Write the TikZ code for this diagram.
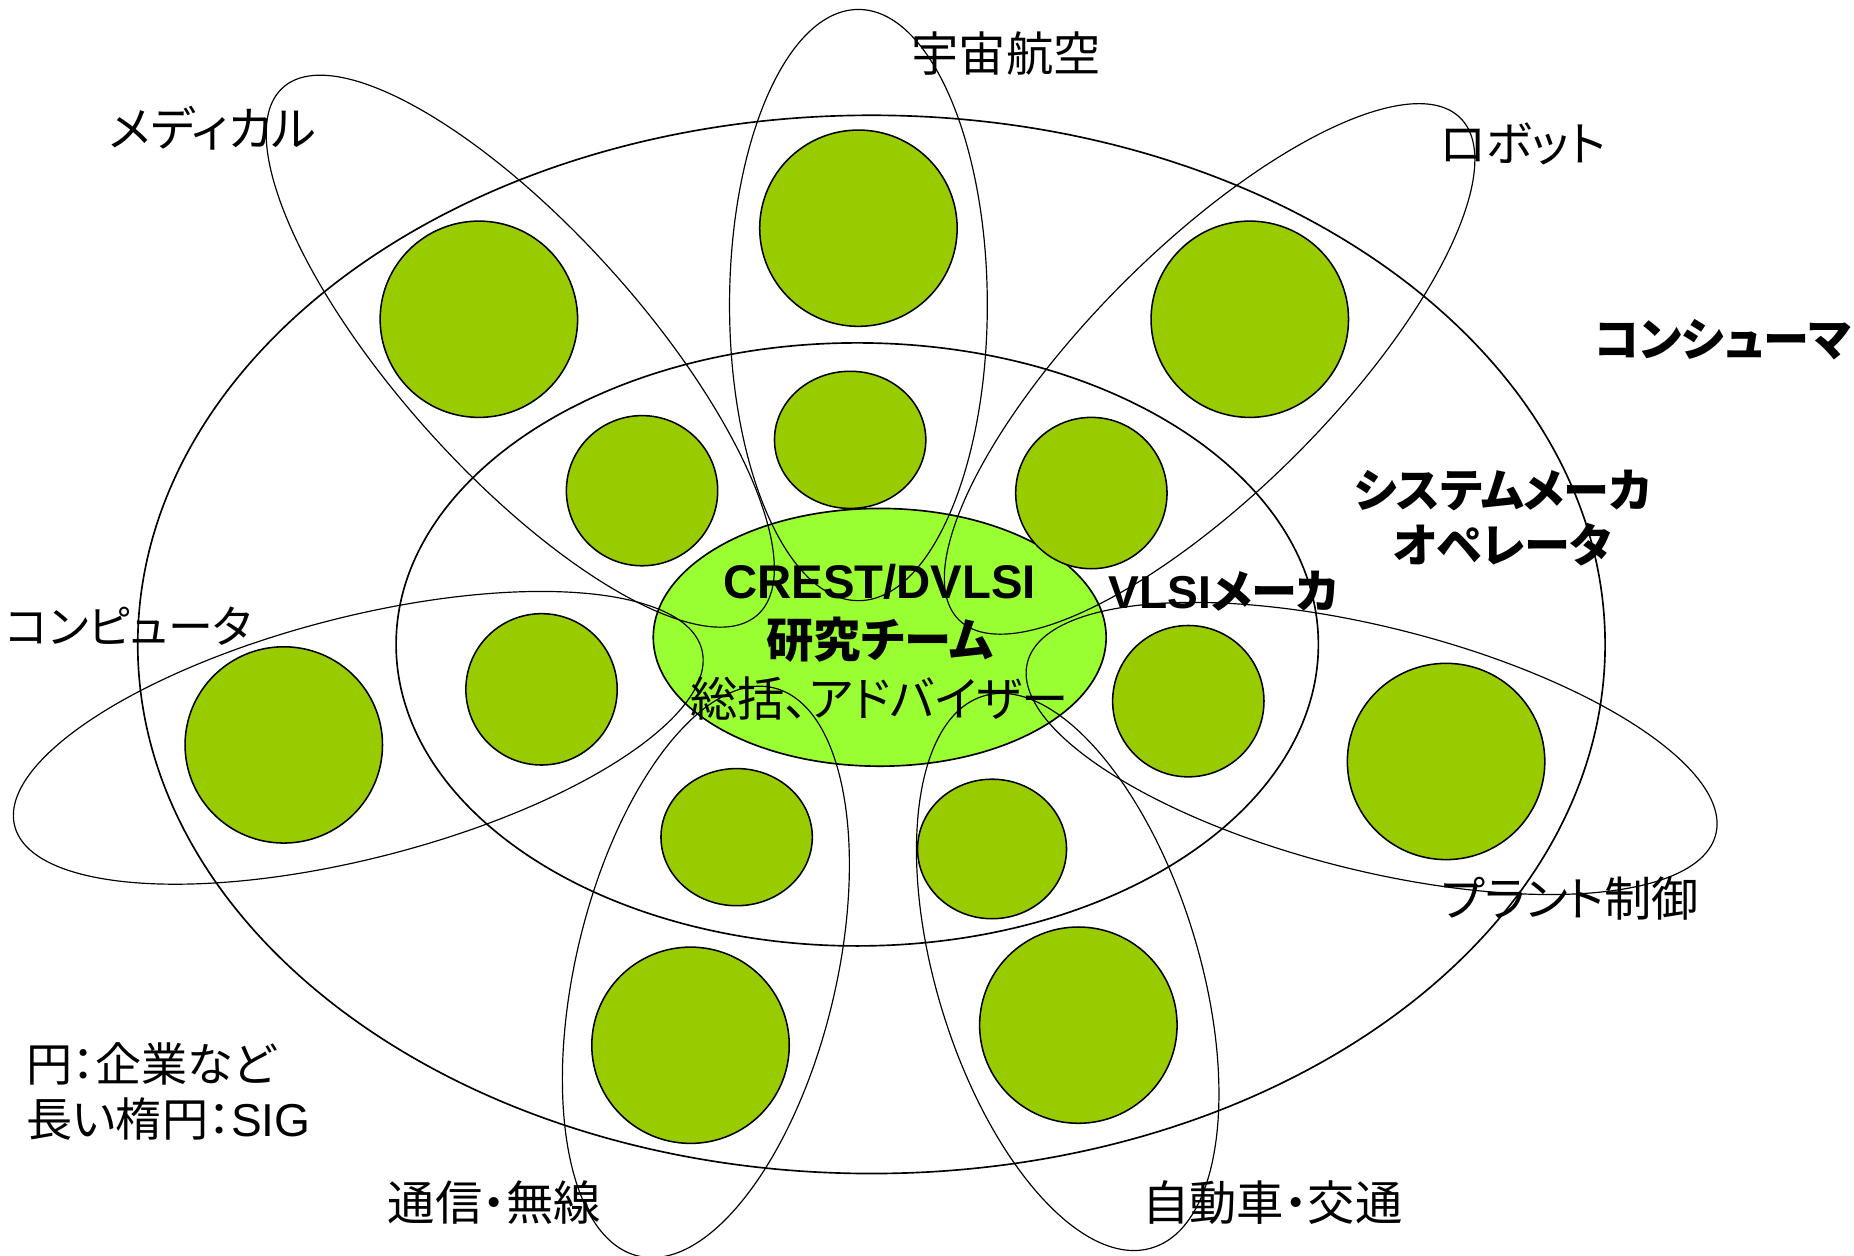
\documentclass[tikz,border=0pt]{standalone}
\usepackage{fontspec}
\setmainfont{Noto Sans CJK JP}[RawFeature=+palt]
\newfontfamily\latinfont{Liberation Sans}
\usetikzlibrary{shapes.geometric}
\definecolor{firmgreen}{HTML}{99CC00}
\definecolor{teamgreen}{HTML}{99FF33}

\begin{document}
\begin{tikzpicture}[x=1pt, y=-1pt,
    every node/.style={font=\fontsize{40pt}{46pt}\selectfont, inner sep=0pt},
    ring/.style={draw, ellipse, line width=1.4pt},
    sig/.style={draw, ellipse, line width=1pt, minimum width=206pt, minimum height=600pt},
    firm/.style={draw, ellipse, fill=firmgreen, line width=1.3pt},
    bigfirm/.style={firm, minimum width=167pt, minimum height=166pt},
    smallfirm/.style={firm, minimum width=128pt, minimum height=128pt},
    tag/.style={align=center},
    boldtag/.style={tag, font=\fontsize{39pt}{47pt}\selectfont\bfseries}
    ]
    \useasboundingbox (0,0) rectangle (1568,1062);
    \node[ring, minimum width=1241pt, minimum height=895pt] (consumer) at (737,545) {};
    \node[ring, minimum width=780pt, minimum height=510pt] (maker) at (725,545) {};
    \node[ring, fill=teamgreen, minimum width=383pt, minimum height=218pt] (team) at (744,539) {};
    \node[tag, font=\fontsize{40pt}{50pt}\selectfont] (teamtxt) at (744,543)
      {{\latinfont\bfseries CREST/DVLSI}\\{\bfseries 研究チーム}\\総括、アドバイザー};

    \node[sig, minimum width=218pt, minimum height=500pt] (space) at (726,258) {};
    \node[sig, rotate=42] (medical) at (440,297) {};
    \node[sig, rotate=-45] (robot) at (1023,312) {};
    \node[sig, rotate=-75.6, minimum width=204pt] (computer) at (303,624) {};
    \node[sig, rotate=76] (plant) at (1160,633) {};
    \node[sig, rotate=-13.4, minimum width=220pt, minimum height=494pt] (telecom) at (597,822) {};
    \node[sig, rotate=17, minimum width=222pt, minimum height=488pt] (auto) at (903,822) {};

    \node[bigfirm] (f1) at (405,270) {};
    \node[bigfirm] (f2) at (726,193) {};
    \node[bigfirm] (f3) at (1057,270) {};
    \node[bigfirm] (f4) at (240,630) {};
    \node[bigfirm] (f5) at (1223,644) {};
    \node[bigfirm] (f6) at (584,884) {};
    \node[bigfirm] (f7) at (912,867) {};
    \node[smallfirm, minimum height=127pt] (s1) at (543,415) {};
    \node[smallfirm, minimum height=116pt] (s2) at (719,372) {};
    \node[smallfirm] (s3) at (923,417) {};
    \node[smallfirm] (s4) at (458,583) {};
    \node[smallfirm] (s5) at (1005,593) {};
    \node[smallfirm, minimum height=116pt] (s6) at (623,708) {};
    \node[smallfirm, minimum width=126pt, minimum height=118pt] (s7) at (839,718) {};

    \node[tag] (spacetxt) at (851,45) {宇宙航空};
    \node[tag] (medicaltxt) at (180,108) {メディカル};
    \node[tag] (robottxt) at (1288,122) {ロボット};
    \node[boldtag] (consumertxt) at (1457,287) {コンシューマ};
    \node[boldtag] (systemtxt) at (1271,438) {システムメーカ\\オペレータ};
    \node[boldtag] (vlsitxt) at (1035,500) {{\latinfont VLSI}メーカ};
    \node[tag, font=\fontsize{38pt}{46pt}\selectfont] (computertxt) at (109,530) {コンピュータ};
    \node[tag] (planttxt) at (1328,760) {プラント制御};
    \node[tag] (telecomtxt) at (418,1017) {通信・無線};
    \node[tag] (autotxt) at (1076,1017) {自動車・交通};
    \node[tag, align=left, anchor=west, font=\fontsize{39pt}{47pt}\selectfont] (legend) at (22,923)
      {円：企業など\\長い楕円：{\latinfont SIG}};
\end{tikzpicture}
\end{document}
